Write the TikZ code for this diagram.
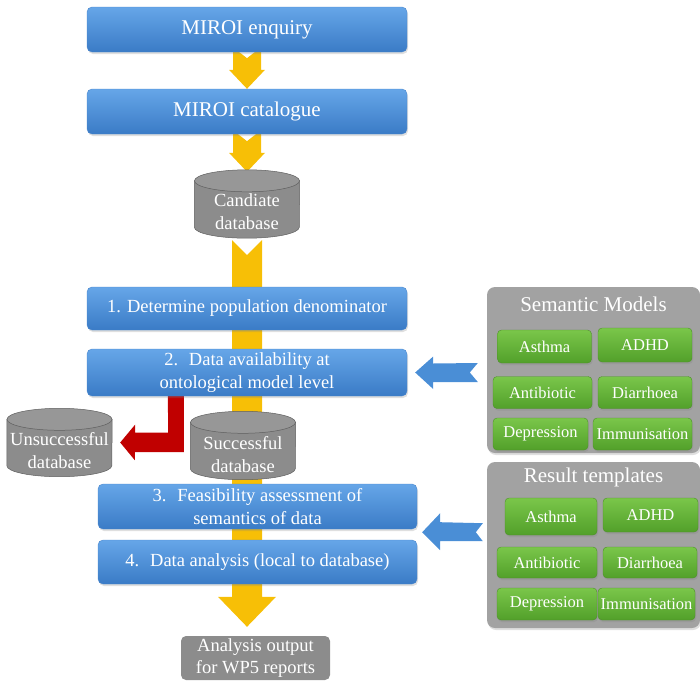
\documentclass[tikz,border=0pt]{standalone}
\usepackage{fontspec}
\setmainfont{LiberationSerif}[Extension=.ttf, UprightFont=*-Regular,
  BoldFont=*-Bold, ItalicFont=*-Italic, BoldItalicFont=*-BoldItalic]
\usetikzlibrary{calc,backgrounds,shadows}

\definecolor{steptop}{HTML}{66A6E8}
\definecolor{stepbot}{HTML}{3A7BC6}
\definecolor{stepedge}{HTML}{4A86CC}
\definecolor{flowyellow}{HTML}{F7BF06}
\definecolor{rejectred}{HTML}{C00000}
\definecolor{dbbody}{HTML}{8C8C8C}
\definecolor{dbend}{HTML}{979797}
\definecolor{dbedge}{HTML}{5F5F5F}
\definecolor{panelgray}{HTML}{A2A2A2}
\definecolor{greentop}{HTML}{7AC64A}
\definecolor{greenbot}{HTML}{52A02A}
\definecolor{greenedge}{HTML}{4E8F2A}
\definecolor{linkblue}{HTML}{4A8ED6}

\tikzset{
  softshadow/.style={drop shadow={opacity=0.25,shadow xshift=1pt,shadow yshift=-2pt}},
  stepbox/.style={rectangle, rounded corners=5pt, minimum width=320pt,
    minimum height=45pt, top color=steptop, bottom color=stepbot,
    draw=stepedge, line width=0.4pt, text=white, align=center,
    inner sep=2pt, font=\fontsize{18.5}{23}\selectfont, softshadow},
  dbase/.style={rectangle, minimum width=105pt, minimum height=68pt,
    inner sep=0pt, append after command={\pgfextra{
      \fill[dbbody, draw=dbedge, line width=0.5pt]
        ([yshift=-11pt]\tikzlastnode.north west)
        -- ([yshift=11pt]\tikzlastnode.south west)
        arc[start angle=180, end angle=360, x radius=52.5pt, y radius=11pt]
        -- ([yshift=-11pt]\tikzlastnode.north east) -- cycle;
      \fill[dbend, draw=dbedge, line width=0.5pt]
        ([yshift=-11pt]\tikzlastnode.north)
        ellipse[x radius=52.5pt, y radius=11pt];}}},
  dbtext/.style={text=white, align=center, inner sep=0pt,
    font=\fontsize{18.5}{23}\selectfont},
  panel/.style={rectangle, rounded corners=8pt, fill=panelgray,
    minimum width=213pt, minimum height=166pt, softshadow},
  paneltitle/.style={text=white, font=\fontsize{21}{24}\selectfont},
  model/.style={rectangle, rounded corners=4pt, top color=greentop,
    bottom color=greenbot, draw=greenedge, line width=0.4pt, text=white,
    inner sep=1pt, font=\fontsize{16.5}{19}\selectfont, softshadow},
  flow/.style={fill=flowyellow},
  reject/.style={fill=rejectred},
  link/.style={fill=linkblue},
}

\begin{document}
\begin{tikzpicture}[x=1pt,y=-1pt]
\useasboundingbox (0,0) rectangle (700,680);

% main work flow
\node[stepbox, font=\fontsize{21}{24}\selectfont] (enquiry) at (247,29.5) {MIROI enquiry};
\node[stepbox, font=\fontsize{21}{24}\selectfont] (catalogue) at (247,111.5) {MIROI catalogue};
\node[dbase] (candidate) at (247,204) {};
\node[dbtext] (candidatetext) at ($(candidate.center)+(0,8)$) {Candiate\\database};
\node[stepbox, minimum height=43pt] (denominator) at (247,308.5) {1. Determine population denominator};
\node[stepbox, minimum height=47pt] (avail) at (247,372.5) {2.~ Data availability at\\ontological model level};
\node[dbase] (unsuccess) at (59.5,442.5) {};
\node[dbtext] (unsuccesstext) at ($(unsuccess.center)+(0,8)$) {Unsuccessful\\database};
\node[dbase] (success) at (243,445.5) {};
\node[dbtext] (successtext) at ($(success.center)+(0,9)$) {Successful\\database};
\node[stepbox, minimum width=319pt] (feasible) at (257.5,506.5) {3.~ Feasibility assessment of\\semantics of data};
\node[stepbox, minimum width=319pt, minimum height=44pt] (analysis) at (257.5,562) {4.~ Data analysis (local to database)};
\node[rectangle, rounded corners=5pt, fill=dbbody, text=white, align=center,
  minimum width=149pt, minimum height=44pt, inner sep=1pt,
  font=\fontsize{18.5}{22}\selectfont] (output) at (255.5,658) {Analysis output\\for WP5 reports};

% semantic models
\node[panel] (models) at (593.5,370) {};
\node[paneltitle] (modelstitle) at ($(models.north)+(0,18)$) {Semantic Models};
\node[model, minimum width=94pt, minimum height=33pt] (masthma) at (544.5,346.5) {Asthma};
\node[model, minimum width=94pt, minimum height=34pt] (madhd) at (645,345) {ADHD};
\node[model, minimum width=99pt, minimum height=32pt] (mantibiotic) at (542.5,392.5) {Antibiotic};
\node[model, minimum width=94pt, minimum height=32pt] (mdiarrhoea) at (645,392.5) {Diarrhoea};
\node[model, minimum width=95pt, minimum height=32pt] (mdepression) at (540.5,434) {Depression};
\node[model, minimum width=99pt, minimum height=32pt] (mimmunisation) at (642.5,434) {Immunisation};

% result templates
\node[panel] (templates) at (593.5,545) {};
\node[paneltitle] (templatestitle) at ($(templates.north)+(0,16)$) {Result templates};
\node[model, minimum width=92pt, minimum height=37pt] (tasthma) at (551,516.5) {Asthma};
\node[model, minimum width=95pt, minimum height=34pt] (tadhd) at (650.5,515) {ADHD};
\node[model, minimum width=100pt, minimum height=31pt] (tantibiotic) at (547,562.5) {Antibiotic};
\node[model, minimum width=94pt, minimum height=31pt] (tdiarrhoea) at (650,562.5) {Diarrhoea};
\node[model, minimum width=100pt, minimum height=32pt] (tdepression) at (547,604) {Depression};
\node[model, minimum width=97pt, minimum height=32pt] (timmunisation) at (646.5,604) {Immunisation};

\begin{pgfonlayer}{background}
% yellow arrows
\fill[flow] ($(enquiry.south)+(-14,-5)$) -- ++(14,11) -- ++(14,-11)
  -- ($(catalogue.north)+(14,-19)$) -- ++(4,0) -- (catalogue.north)
  -- ++(-18,-19) -- ++(4,0) -- cycle;
\fill[flow] ($(catalogue.south)+(-14,-4)$) -- ++(14,11) -- ++(14,-11)
  -- ($(candidate.north)+(14,-17)$) -- ++(4,0) -- ($(candidate.north)+(0,2)$)
  -- ++(-18,-19) -- ++(4,0) -- cycle;
\fill[flow] ($(candidate.south)+(-15,2)$) -- ++(15,15) -- ++(15,-15)
  -- ($(candidate.south |- output.north)+(15,-39)$) -- ++(14,0)
  -- ($(candidate.south |- output.north)+(0,-9)$) -- ++(-29,-30)
  -- ++(14,0) -- cycle;
% red arrow
\fill[reject] ($(avail.south west)+(81,-3)$) -- ++(16,0) -- ++(0,59)
  -- ++(-49,0) -- ++(0,8) -- ($(unsuccess.east)+(8,0)$) -- ++(15,-18)
  -- ++(0,8) -- ++(33,0) -- cycle;
% blue arrows
\fill[link] ($(avail.east)+(8,0)$) -- ++(18,-16) -- ++(0,7)
  -- ($(models.west |- avail.east)+(-9,-9.5)$) -- ++(-8,9.5) -- ++(8,9.5)
  -- ($(avail.east)+(26,9.5)$) -- ++(0,7) -- cycle;
\coordinate (tipB) at ($(feasible.south east)+(5,3)$);
\fill[link] (tipB) -- ++(18,-19) -- ++(0,9)
  -- ($(templates.west |- tipB)+(-4,-9)$) -- ++(-7,9) -- ++(7,9)
  -- ($(tipB)+(18,9)$) -- ++(0,9) -- cycle;
\end{pgfonlayer}
\end{tikzpicture}
\end{document}
